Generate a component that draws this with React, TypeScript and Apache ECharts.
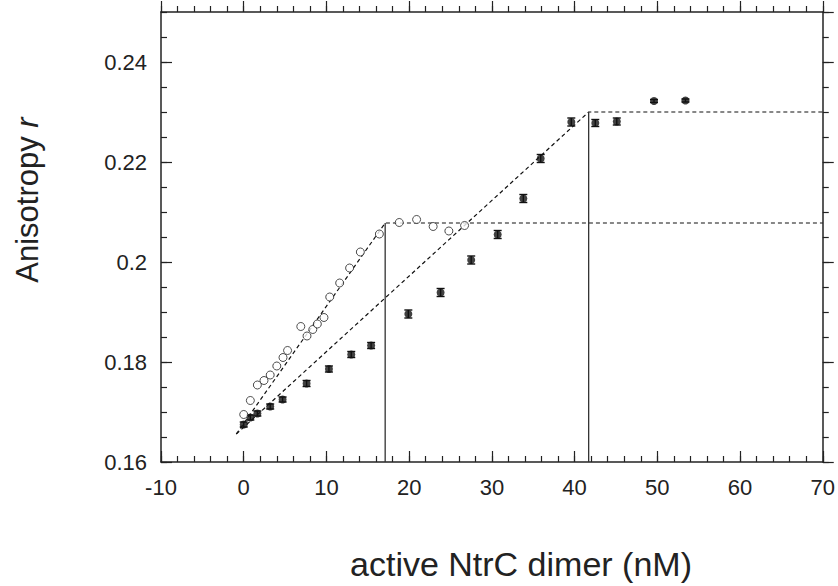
import React, { useEffect, useRef } from "react";
import * as echarts from "echarts";

// Open circles (series 1)
const openX = [0, 0.8, 1.65, 2.45, 3.2, 4.0, 4.75, 5.3, 6.9, 7.65, 8.35, 8.9, 9.7, 10.4, 11.6, 12.8, 14.1, 16.4, 18.8, 20.9, 22.9, 24.8, 26.7];
const openY = [0.1695, 0.1723, 0.1754, 0.1763, 0.1774, 0.1792, 0.1809, 0.1823, 0.1871, 0.1852, 0.1865, 0.1876, 0.1889, 0.193, 0.1958, 0.1988, 0.202, 0.2056, 0.2079, 0.2085, 0.2071, 0.2062, 0.2073];

// Filled circles (series 2) with error values
const filledX = [0, 0.8, 1.65, 3.2, 4.7, 7.6, 10.3, 13.0, 15.4, 19.9, 23.8, 27.5, 30.7, 33.8, 35.9, 39.6, 42.5, 45.1, 49.6, 53.4];
const filledY = [0.1675, 0.1689, 0.1697, 0.1711, 0.1725, 0.1757, 0.1786, 0.1815, 0.1833, 0.1896, 0.1939, 0.2004, 0.2055, 0.2127, 0.2207, 0.228, 0.2278, 0.2281, 0.2322, 0.2323];
const filledErr = [0.0005, 0.0005, 0.0005, 0.0005, 0.0005, 0.0006, 0.0006, 0.0006, 0.0006, 0.0008, 0.0008, 0.0008, 0.0008, 0.0008, 0.0008, 0.0008, 0.0007, 0.0007, 0.0003, 0.0003];

// Fit lines (break-point models)
const fitOpenX = [-0.9, 17.1, 70];
const fitOpenY = [0.1656, 0.2078, 0.2078];
const fitFilledX = [-0.9, 41.7, 70];
const fitFilledY = [0.1656, 0.23, 0.23];

// Vertical markers of equivalence points
const markOpenX = [17.1, 17.1];
const markOpenY = [0.16, 0.2078];
const markFilledX = [41.7, 41.7];
const markFilledY = [0.16, 0.23];

const zip = (xs: number[], ys: number[]) => xs.map((x, i) => [x, ys[i]]);

const FONT = "'Liberation Sans', Arial, Helvetica, sans-serif";
const INK = "#222";

export default function App() {
  const ref = useRef<HTMLDivElement>(null);
  useEffect(() => {
    if (!ref.current) return;
    const chart = echarts.init(ref.current, undefined, { renderer: "svg" });

    const axisLineStyle = { color: INK, width: 1.5 };
    const xCommon = { type: "value", min: -10, max: 70, splitLine: { show: false } };
    const yCommon = { type: "value", min: 0.16, max: 0.25, splitLine: { show: false } };
    const tickStyle = { color: INK, width: 1.2 };

    const option: any = {
      animation: false,
      backgroundColor: "#fff",
      grid: { left: 161, right: 15, top: 12, bottom: 124, containLabel: false },
      xAxis: [
        {
          ...xCommon,
          position: "bottom",
          interval: 10,
          axisLine: { show: true, onZero: false, lineStyle: axisLineStyle },
          axisTick: { inside: true, length: 11, lineStyle: tickStyle },
          axisLabel: { fontSize: 22, color: INK, fontFamily: FONT, margin: 14 },
        },
        {
          ...xCommon,
          position: "bottom",
          interval: 2,
          axisLine: { show: false, onZero: false },
          axisTick: { inside: true, length: 6, lineStyle: tickStyle },
          axisLabel: { show: false },
        },
        {
          ...xCommon,
          position: "top",
          interval: 10,
          axisLine: { show: true, onZero: false, lineStyle: axisLineStyle },
          axisTick: { show: true, inside: false, length: 11, lineStyle: tickStyle },
          axisLabel: { show: false },
        },
        {
          ...xCommon,
          position: "top",
          interval: 2,
          axisLine: { show: false, onZero: false },
          axisTick: { show: true, inside: false, length: 6, lineStyle: tickStyle },
          axisLabel: { show: false },
        },
      ],
      yAxis: [
        {
          ...yCommon,
          position: "left",
          interval: 0.02,
          axisLine: { show: true, onZero: false, lineStyle: axisLineStyle },
          axisTick: { inside: true, length: 11, lineStyle: tickStyle },
          axisLabel: {
            fontSize: 22,
            color: INK,
            fontFamily: FONT,
            margin: 14,
            showMaxLabel: false,
            formatter: (v: number) => String(Math.round(v * 100) / 100),
          },
        },
        {
          ...yCommon,
          position: "left",
          interval: 0.005,
          axisLine: { show: false, onZero: false },
          axisTick: { inside: true, length: 6, lineStyle: tickStyle },
          axisLabel: { show: false },
        },
        {
          ...yCommon,
          position: "right",
          interval: 0.02,
          axisLine: { show: true, onZero: false, lineStyle: axisLineStyle },
          axisTick: { show: true, inside: false, length: 11, lineStyle: tickStyle },
          axisLabel: { show: false },
        },
        {
          ...yCommon,
          position: "right",
          interval: 0.005,
          axisLine: { show: false, onZero: false },
          axisTick: { show: true, inside: false, length: 6, lineStyle: tickStyle },
          axisLabel: { show: false },
        },
      ],
      series: [
        {
          type: "line",
          data: zip(fitOpenX, fitOpenY),
          symbol: "none",
          lineStyle: { color: "#111", width: 1.2, type: [4, 3] },
          z: 2,
        },
        {
          type: "line",
          data: zip(fitFilledX, fitFilledY),
          symbol: "none",
          lineStyle: { color: "#111", width: 1.2, type: [4, 3] },
          z: 2,
        },
        {
          type: "line",
          data: zip(markOpenX, markOpenY),
          symbol: "none",
          lineStyle: { color: "#333", width: 1.3 },
          z: 2,
        },
        {
          type: "line",
          data: zip(markFilledX, markFilledY),
          symbol: "none",
          lineStyle: { color: "#333", width: 1.3 },
          z: 2,
        },
        {
          type: "custom",
          data: filledX.map((x, i) => [x, filledY[i], filledErr[i]]),
          encode: { x: 0, y: 1 },
          z: 3,
          renderItem: (_params: any, api: any) => {
            const x = api.value(0);
            const y = api.value(1);
            const e = api.value(2);
            const lo = api.coord([x, y - e]);
            const hi = api.coord([x, y + e]);
            const w = 4;
            const st = { stroke: "#111", lineWidth: 1.4 };
            return {
              type: "group",
              children: [
                { type: "line", shape: { x1: lo[0], y1: lo[1], x2: hi[0], y2: hi[1] }, style: st },
                { type: "line", shape: { x1: lo[0] - w, y1: lo[1], x2: lo[0] + w, y2: lo[1] }, style: st },
                { type: "line", shape: { x1: hi[0] - w, y1: hi[1], x2: hi[0] + w, y2: hi[1] }, style: st },
              ],
            };
          },
        },
        {
          type: "scatter",
          data: zip(filledX, filledY),
          symbol: "circle",
          symbolSize: 8,
          itemStyle: { color: "#111" },
          z: 4,
        },
        {
          type: "scatter",
          data: zip(openX, openY),
          symbol: "circle",
          symbolSize: 8,
          itemStyle: { color: "#fff", borderColor: "#222", borderWidth: 1 },
          z: 4,
        },
      ],
      graphic: [
        {
          type: "text",
          x: 521,
          y: 564,
          style: {
            text: "active NtrC dimer (nM)",
            fontSize: 34,
            fontFamily: FONT,
            fill: INK,
            align: "center",
            verticalAlign: "middle",
          },
        },
        {
          type: "text",
          x: 27,
          y: 200,
          rotation: Math.PI / 2,
          style: {
            text: "{a|Anisotropy }{b|r}",
            align: "center",
            verticalAlign: "middle",
            fill: INK,
            rich: {
              a: { fontSize: 31, fontFamily: FONT, fill: INK },
              b: { fontSize: 31, fontFamily: FONT, fontStyle: "italic", fill: INK },
            },
          },
        },
      ],
    };

    chart.setOption(option);
    return () => chart.dispose();
  }, []);

  return (
    <div
      ref={ref}
      style={{ position: "fixed", left: 0, top: 0, width: 838, height: 586, background: "#fff" }}
    />
  );
}
